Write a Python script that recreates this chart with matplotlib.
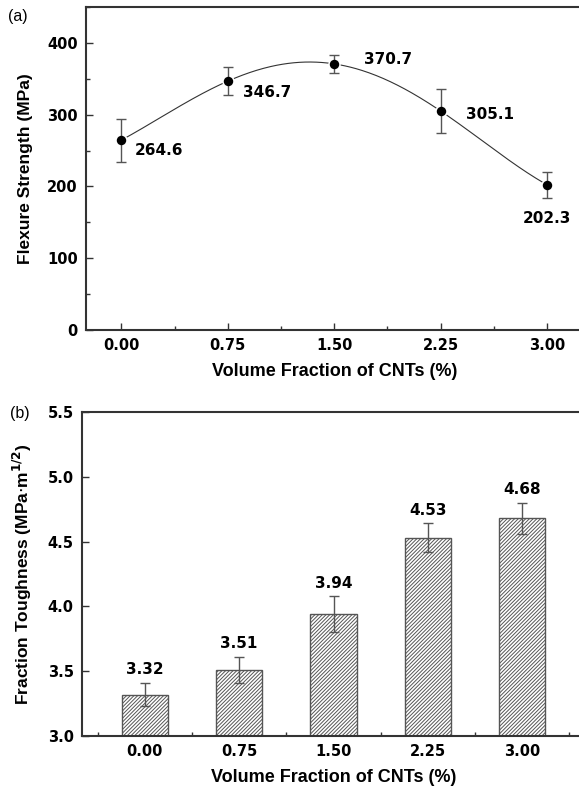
import numpy as np
import matplotlib
matplotlib.use('Agg')
import matplotlib.pyplot as plt
from matplotlib.ticker import MultipleLocator

# data
cnt_frac = [0.00, 0.75, 1.50, 2.25, 3.00]
flex_strength = [264.6, 346.7, 370.7, 305.1, 202.3]
flex_err = [30, 20, 13, 31, 18]
toughness = [3.32, 3.51, 3.94, 4.53, 4.68]
tough_err = [0.09, 0.10, 0.14, 0.11, 0.12]
tick_labels = ['0.00', '0.75', '1.50', '2.25', '3.00']

plt.rcParams['hatch.color'] = '#555555'
plt.rcParams['hatch.linewidth'] = 0.7

num_font = {'family': 'DejaVu Sans', 'weight': 'bold'}
xlab_font = {'family': 'Liberation Sans', 'weight': 'bold', 'size': 13}
ylab_font = {'family': 'Liberation Sans', 'weight': 'bold', 'size': 12.5}
spine_col = '#333333'

fig = plt.figure(figsize=(5.79, 7.93), dpi=100)
ax_a = fig.add_axes([0.1485, 0.5839, 0.8575, 0.4073])
ax_b = fig.add_axes([0.1416, 0.0719, 0.8688, 0.4086])


def style_axes(ax):
    for side in ['left', 'bottom', 'top', 'right']:
        ax.spines[side].set_linewidth(1.5)
        ax.spines[side].set_color(spine_col)
    ax.tick_params(which='both', direction='in', top=False, right=False,
                   color=spine_col, width=1.0)
    ax.tick_params(which='major', length=5, labelsize=10.5, pad=6)
    ax.tick_params(which='minor', length=3)
    for lbl in ax.get_xticklabels() + ax.get_yticklabels():
        lbl.set_fontfamily('DejaVu Sans')
        lbl.set_fontweight('bold')
        lbl.set_color('black')


# (a) flexure strength
x = np.array(cnt_frac)
y = np.array(flex_strength)
coef = np.polyfit(x, y, len(x) - 1)
xs = np.linspace(x[0], x[-1], 300)
ax_a.plot(xs, np.polyval(coef, xs), color='#333333', lw=0.8, zorder=1)
ax_a.plot(x, y, 'o', ms=6.8, mfc='black', mec='white', mew=2.2, zorder=2)
ax_a.errorbar(x, y, yerr=flex_err, fmt='none', ecolor='#555555',
              elinewidth=1.0, capsize=3.5, capthick=1.0, zorder=3)
ax_a.plot(x, y, 'o', ms=6.8, mfc='black', mec='black', mew=0, zorder=4)

offsets = [(13, -10, 'left'), (15, -11, 'left'), (30, 4, 'left'),
           (25, -4, 'left'), (0, -34, 'center')]
for xi, yi, (dx, dy, ha) in zip(x, y, offsets):
    ax_a.annotate(f'{yi:.1f}', (xi, yi), xytext=(dx / 1.389, dy / 1.389),
                  textcoords='offset points', ha=ha, va='center',
                  fontsize=11, **num_font)

ax_a.set_xlim(-0.25, 3.25)
ax_a.set_ylim(0, 450)
ax_a.set_xticks(cnt_frac)
ax_a.set_xticklabels(tick_labels)
ax_a.xaxis.set_minor_locator(MultipleLocator(0.375))
ax_a.set_yticks([0, 100, 200, 300, 400])
ax_a.yaxis.set_minor_locator(MultipleLocator(50))
ax_a.set_xlabel('Volume Fraction of CNTs (%)', fontdict=xlab_font, labelpad=7)
ax_a.set_ylabel('Flexure Strength (MPa)', fontdict=ylab_font, labelpad=10)
style_axes(ax_a)
ax_a.spines['right'].set_visible(False)

# (b) fracture toughness
ax_b.bar(cnt_frac, toughness, width=0.37, color='white', edgecolor='#555555',
         hatch='/////////', linewidth=1.0, zorder=2)
ax_b.errorbar(cnt_frac, toughness, yerr=tough_err, fmt='none', ecolor='#555555',
              elinewidth=1.0, capsize=3.5, capthick=1.0, zorder=3)
for xi, yi, ei in zip(cnt_frac, toughness, tough_err):
    ax_b.text(xi, yi + ei + 0.10, f'{yi:.2f}', ha='center', va='center',
              fontsize=11, **num_font)

ax_b.set_xlim(-0.5, 3.5)
ax_b.set_ylim(3.0, 5.5)
ax_b.set_xticks(cnt_frac)
ax_b.set_xticklabels(tick_labels)
ax_b.xaxis.set_minor_locator(MultipleLocator(0.375))
ax_b.set_yticks([3.0, 3.5, 4.0, 4.5, 5.0, 5.5])
ax_b.set_yticklabels(['3.0', '3.5', '4.0', '4.5', '5.0', '5.5'])
ax_b.set_xlabel('Volume Fraction of CNTs (%)', fontdict=xlab_font, labelpad=7)
ax_b.set_ylabel(r'Fraction Toughness (MPa$\cdot$m$^{\mathbf{1/2}}$)',
                fontdict=ylab_font, labelpad=10)
style_axes(ax_b)
ax_b.spines['right'].set_visible(False)

fig.text(0.014, 0.979, '(a)', fontsize=11.5, family='Liberation Sans', va='center')
fig.text(0.017, 0.479, '(b)', fontsize=11.5, family='Liberation Sans', va='center')

fig.savefig('out.png', dpi=100)
